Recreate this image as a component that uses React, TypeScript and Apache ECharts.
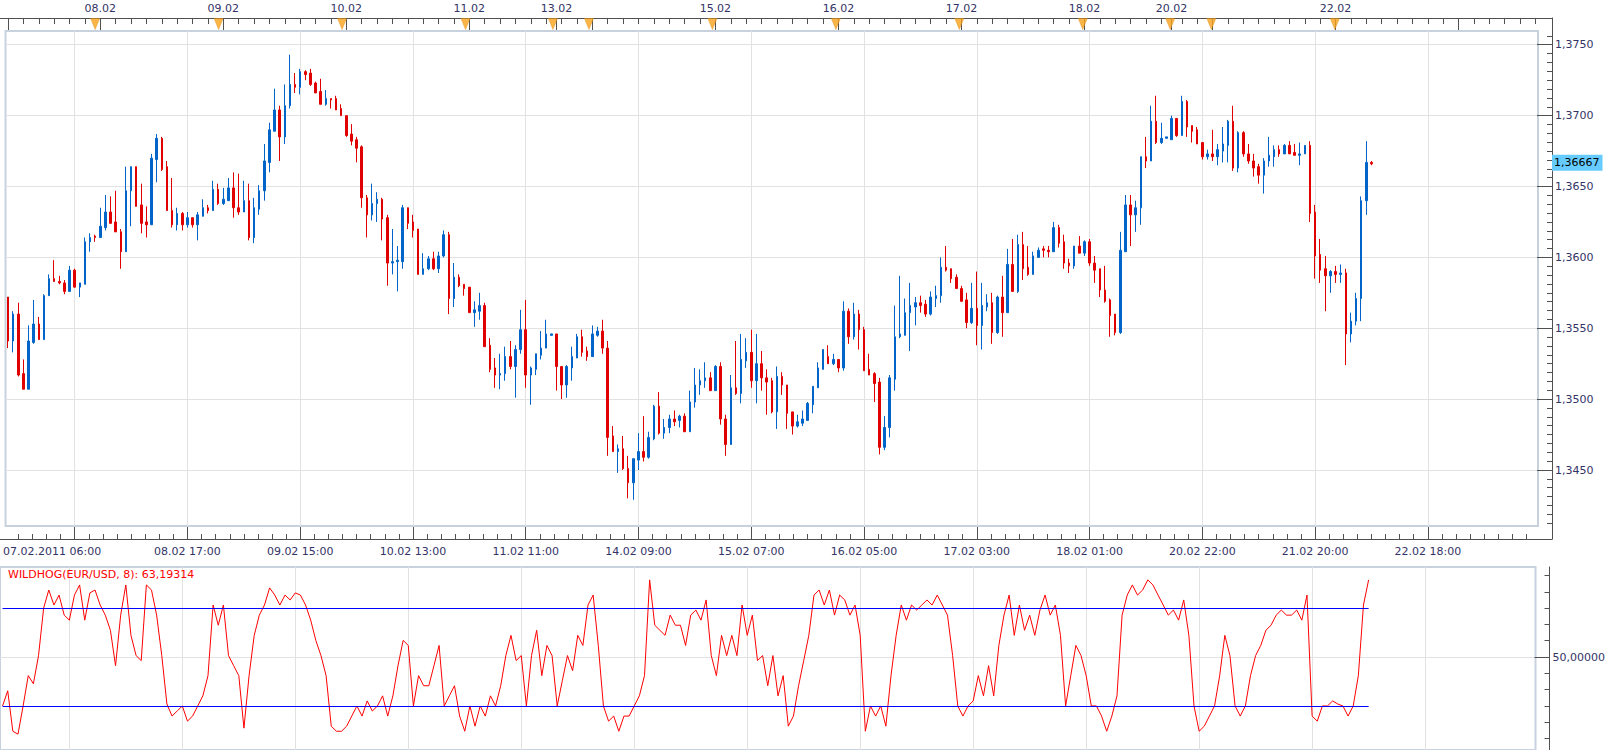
import React, { useEffect, useRef } from 'react';
import * as echarts from 'echarts';

const FONT = 'DejaVu Sans';
const LABEL_COLOR = '#333366';
const AXIS_COLOR = '#505050';
const GRID_COLOR = '#e2e2e2';
const FRAME_COLOR = '#c8d1de';

// trading sessions: day, first hour, last hour (hourly bars)
const SESSIONS: [string, number, number][] = [
  ['07.02', 6, 23], ['08.02', 0, 23], ['09.02', 0, 23], ['10.02', 0, 23], ['11.02', 0, 16],
  ['13.02', 17, 23], ['14.02', 0, 23], ['15.02', 0, 23], ['16.02', 0, 23], ['17.02', 0, 23],
  ['18.02', 0, 16], ['20.02', 16, 23], ['21.02', 0, 23], ['22.02', 0, 23], ['23.02', 0, 15],
];

const TOP_DAY_LABELS = ['08.02', '09.02', '10.02', '11.02', '13.02', '15.02', '16.02', '17.02', '18.02', '20.02', '22.02'];
const MARKER_DAYS = ['08.02', '09.02', '10.02', '11.02', '13.02', '14.02', '15.02', '16.02', '17.02', '18.02', '20.02', '21.02', '22.02'];
const GRID_TIMES = ['07.02 19:00', '08.02 17:00', '09.02 15:00', '10.02 13:00', '11.02 11:00', '14.02 09:00', '15.02 07:00',
  '16.02 05:00', '17.02 03:00', '18.02 01:00', '20.02 22:00', '21.02 20:00', '22.02 18:00'];
const FIRST_LABEL = '07.02.2011 06:00';
const PRICE_TICKS = [1.345, 1.35, 1.355, 1.36, 1.365, 1.37, 1.375];
const LAST_PRICE = 1.36667;
const LAST_PRICE_LABEL = '1,36667';
const IND_TITLE = 'WILDHOG(EUR/USD, 8): 63,19314';
const IND_LEVELS = [80, 20];
const IND_MID = 50;
const IND_MID_LABEL = '50,00000';

// [open, close, low, high]
const ohlc: number[][] = [
  [1.3572,1.3541,1.3536,1.3572],[1.3541,1.3560,1.3533,1.3562],[1.3560,1.3517,1.3516,1.3568],[1.3518,1.3507,1.3507,1.3528],
  [1.3507,1.3541,1.3507,1.3552],[1.3540,1.3553,1.3539,1.3570],[1.3553,1.3542,1.3542,1.3558],[1.3542,1.3573,1.3542,1.3574],
  [1.3573,1.3585,1.3573,1.3588],[1.3585,1.3583,1.3583,1.3598],[1.3583,1.3582,1.3581,1.3587],[1.3582,1.3576,1.3574,1.3584],
  [1.3576,1.3591,1.3576,1.3594],[1.3591,1.3579,1.3579,1.3592],[1.3579,1.3582,1.3572,1.3582],[1.3581,1.3611,1.3581,1.3614],
  [1.3611,1.3614,1.3604,1.3617],[1.3615,1.3614,1.3611,1.3616],[1.3614,1.3622,1.3614,1.3635],[1.3621,1.3632,1.3619,1.3644],
  [1.3632,1.3624,1.3624,1.3643],[1.3625,1.3618,1.3618,1.3647],[1.3618,1.3604,1.3592,1.3620],[1.3604,1.3647,1.3604,1.3664],
  [1.3647,1.3664,1.3622,1.3664],[1.3664,1.3636,1.3636,1.3664],[1.3637,1.3624,1.3617,1.3652],[1.3625,1.3623,1.3614,1.3636],
  [1.3623,1.3670,1.3623,1.3673],[1.3669,1.3684,1.3653,1.3687],[1.3684,1.3662,1.3661,1.3685],[1.3664,1.3633,1.3633,1.3668],
  [1.3633,1.3623,1.3621,1.3656],[1.3623,1.3631,1.3619,1.3635],[1.3631,1.3623,1.3619,1.3632],[1.3623,1.3628,1.3621,1.3632],
  [1.3628,1.3623,1.3621,1.3628],[1.3623,1.3630,1.3612,1.3632],[1.3629,1.3635,1.3629,1.3641],[1.3635,1.3633,1.3631,1.3637],
  [1.3633,1.3648,1.3633,1.3654],[1.3648,1.3638,1.3637,1.3652],[1.3638,1.3641,1.3637,1.3649],[1.3640,1.3649,1.3640,1.3656],
  [1.3649,1.3635,1.3628,1.3660],[1.3635,1.3632,1.3630,1.3659],[1.3632,1.3640,1.3632,1.3654],[1.3640,1.3614,1.3612,1.3652],
  [1.3614,1.3635,1.3610,1.3642],[1.3634,1.3647,1.3630,1.3651],[1.3647,1.3668,1.3640,1.3680],[1.3667,1.3690,1.3660,1.3695],
  [1.3689,1.3704,1.3689,1.3719],[1.3704,1.3685,1.3668,1.3707],[1.3685,1.3707,1.3680,1.3722],[1.3707,1.3722,1.3705,1.3743],
  [1.3722,1.3720,1.3716,1.3730],[1.3720,1.3731,1.3715,1.3733],[1.3731,1.3729,1.3725,1.3732],[1.3730,1.3722,1.3721,1.3733],
  [1.3723,1.3716,1.3716,1.3724],[1.3717,1.3708,1.3708,1.3726],[1.3708,1.3712,1.3707,1.3718],[1.3712,1.3711,1.3705,1.3712],
  [1.3712,1.3704,1.3704,1.3714],[1.3705,1.3700,1.3700,1.3708],[1.3700,1.3686,1.3685,1.3700],[1.3687,1.3682,1.3679,1.3694],
  [1.3683,1.3677,1.3667,1.3685],[1.3678,1.3642,1.3635,1.3679],[1.3642,1.3630,1.3614,1.3644],[1.3630,1.3638,1.3626,1.3652],
  [1.3638,1.3641,1.3625,1.3646],[1.3641,1.3627,1.3612,1.3642],[1.3628,1.3596,1.3580,1.3630],[1.3596,1.3597,1.3588,1.3620],
  [1.3597,1.3598,1.3576,1.3608],[1.3597,1.3635,1.3592,1.3637],[1.3635,1.3624,1.3620,1.3635],[1.3625,1.3619,1.3614,1.3630],
  [1.3620,1.3588,1.3588,1.3620],[1.3588,1.3592,1.3588,1.3603],[1.3592,1.3599,1.3591,1.3601],[1.3599,1.3592,1.3591,1.3604],
  [1.3592,1.3601,1.3589,1.3604],[1.3601,1.3616,1.3600,1.3619],[1.3616,1.3571,1.3560,1.3618],[1.3571,1.3586,1.3565,1.3596],
  [1.3586,1.3580,1.3579,1.3588],[1.3581,1.3578,1.3573,1.3581],[1.3579,1.3561,1.3561,1.3579],[1.3561,1.3563,1.3551,1.3569],
  [1.3562,1.3566,1.3556,1.3575],[1.3566,1.3537,1.3537,1.3568],[1.3538,1.3521,1.3519,1.3543],[1.3522,1.3517,1.3508,1.3529],
  [1.3517,1.3518,1.3507,1.3532],[1.3518,1.3530,1.3513,1.3537],[1.3530,1.3523,1.3521,1.3541],[1.3523,1.3535,1.3501,1.3538],
  [1.3535,1.3549,1.3532,1.3563],[1.3549,1.3517,1.3508,1.3570],[1.3517,1.3522,1.3496,1.3523],[1.3521,1.3532,1.3517,1.3532],
  [1.3531,1.3536,1.3528,1.3548],[1.3536,1.3546,1.3536,1.3556],[1.3545,1.3546,1.3545,1.3546],[1.3546,1.3523,1.3506,1.3546],
  [1.3523,1.3510,1.3500,1.3523],[1.3510,1.3523,1.3501,1.3524],[1.3522,1.3530,1.3513,1.3537],[1.3529,1.3544,1.3529,1.3546],
  [1.3544,1.3533,1.3530,1.3549],[1.3534,1.3530,1.3527,1.3537],[1.3530,1.3546,1.3530,1.3552],[1.3545,1.3548,1.3544,1.3551],
  [1.3548,1.3536,1.3532,1.3556],[1.3536,1.3473,1.3460,1.3541],[1.3474,1.3463,1.3463,1.3481],[1.3463,1.3465,1.3448,1.3468],
  [1.3465,1.3451,1.3450,1.3474],[1.3451,1.3441,1.3430,1.3460],[1.3441,1.3458,1.3429,1.3458],[1.3457,1.3463,1.3450,1.3476],
  [1.3463,1.3459,1.3456,1.3488],[1.3459,1.3473,1.3458,1.3477],[1.3472,1.3495,1.3471,1.3496],[1.3495,1.3476,1.3475,1.3505],
  [1.3476,1.3480,1.3472,1.3486],[1.3480,1.3486,1.3476,1.3489],[1.3486,1.3484,1.3481,1.3492],[1.3485,1.3488,1.3480,1.3489],
  [1.3488,1.3477,1.3477,1.3490],[1.3477,1.3498,1.3477,1.3506],[1.3498,1.3510,1.3494,1.3522],[1.3510,1.3513,1.3503,1.3521],
  [1.3513,1.3515,1.3508,1.3526],[1.3515,1.3506,1.3506,1.3519],[1.3506,1.3523,1.3506,1.3524],[1.3523,1.3486,1.3482,1.3526],
  [1.3486,1.3468,1.3460,1.3489],[1.3468,1.3508,1.3468,1.3517],[1.3508,1.3504,1.3503,1.3541],[1.3504,1.3528,1.3497,1.3546],
  [1.3527,1.3533,1.3522,1.3543],[1.3533,1.3513,1.3508,1.3549],[1.3513,1.3525,1.3497,1.3546],[1.3525,1.3515,1.3506,1.3534],
  [1.3515,1.3512,1.3489,1.3521],[1.3513,1.3491,1.3490,1.3515],[1.3491,1.3516,1.3479,1.3523],[1.3516,1.3510,1.3503,1.3519],
  [1.3510,1.3490,1.3479,1.3510],[1.3491,1.3481,1.3475,1.3491],[1.3481,1.3484,1.3480,1.3489],[1.3483,1.3486,1.3481,1.3492],
  [1.3485,1.3497,1.3485,1.3498],[1.3496,1.3509,1.3490,1.3509],[1.3508,1.3522,1.3508,1.3526],[1.3521,1.3535,1.3521,1.3535],
  [1.3530,1.3525,1.3525,1.3538],[1.3525,1.3528,1.3524,1.3532],[1.3528,1.3522,1.3519,1.3528],[1.3522,1.3562,1.3520,1.3569],
  [1.3562,1.3544,1.3539,1.3564],[1.3544,1.3560,1.3542,1.3568],[1.3560,1.3549,1.3535,1.3563],[1.3549,1.3520,1.3520,1.3551],
  [1.3521,1.3517,1.3517,1.3532],[1.3518,1.3511,1.3498,1.3519],[1.3512,1.3466,1.3461,1.3515],[1.3466,1.3480,1.3464,1.3488],
  [1.3480,1.3515,1.3473,1.3517],[1.3514,1.3544,1.3506,1.3566],[1.3544,1.3546,1.3543,1.3587],[1.3545,1.3561,1.3545,1.3571],
  [1.3561,1.3566,1.3534,1.3582],[1.3565,1.3568,1.3552,1.3572],[1.3568,1.3566,1.3561,1.3573],[1.3567,1.3560,1.3558,1.3570],
  [1.3560,1.3572,1.3559,1.3576],[1.3571,1.3573,1.3565,1.3580],[1.3573,1.3593,1.3568,1.3600],[1.3593,1.3591,1.3590,1.3608],
  [1.3592,1.3585,1.3582,1.3592],[1.3586,1.3578,1.3578,1.3588],[1.3578,1.3569,1.3569,1.3580],[1.3570,1.3554,1.3550,1.3575],
  [1.3554,1.3564,1.3553,1.3582],[1.3564,1.3552,1.3538,1.3590],[1.3552,1.3566,1.3535,1.3582],[1.3565,1.3568,1.3562,1.3574],
  [1.3568,1.3547,1.3539,1.3575],[1.3547,1.3572,1.3546,1.3573],[1.3572,1.3561,1.3544,1.3587],[1.3561,1.3595,1.3561,1.3606],
  [1.3595,1.3576,1.3576,1.3613],[1.3576,1.3609,1.3575,1.3616],[1.3609,1.3592,1.3584,1.3618],[1.3593,1.3588,1.3587,1.3608],
  [1.3588,1.3601,1.3588,1.3604],[1.3600,1.3605,1.3600,1.3607],[1.3606,1.3605,1.3600,1.3608],[1.3605,1.3604,1.3600,1.3608],
  [1.3604,1.3621,1.3604,1.3625],[1.3621,1.3610,1.3607,1.3623],[1.3611,1.3596,1.3592,1.3616],[1.3596,1.3594,1.3589,1.3599],
  [1.3594,1.3608,1.3592,1.3608],[1.3608,1.3603,1.3603,1.3615],[1.3603,1.3611,1.3601,1.3612],[1.3611,1.3596,1.3594,1.3613],
  [1.3596,1.3591,1.3582,1.3601],[1.3592,1.3577,1.3572,1.3592],[1.3577,1.3569,1.3568,1.3594],[1.3570,1.3559,1.3544,1.3571],
  [1.3560,1.3547,1.3545,1.3560],[1.3547,1.3605,1.3546,1.3618],[1.3604,1.3637,1.3604,1.3644],[1.3637,1.3630,1.3608,1.3644],
  [1.3630,1.3635,1.3618,1.3640],[1.3635,1.3671,1.3623,1.3671],[1.3671,1.3668,1.3663,1.3685],[1.3668,1.3696,1.3668,1.3707],
  [1.3696,1.3681,1.3680,1.3714],[1.3681,1.3684,1.3680,1.3695],[1.3684,1.3685,1.3684,1.3685],[1.3683,1.3698,1.3683,1.3700],
  [1.3698,1.3686,1.3685,1.3698],[1.3686,1.3710,1.3686,1.3714],[1.3710,1.3692,1.3685,1.3711],[1.3693,1.3689,1.3681,1.3693],
  [1.3690,1.3680,1.3680,1.3692],[1.3681,1.3671,1.3669,1.3681],[1.3671,1.3673,1.3669,1.3676],[1.3673,1.3671,1.3668,1.3690],
  [1.3671,1.3676,1.3665,1.3680],[1.3675,1.3680,1.3667,1.3692],[1.3679,1.3696,1.3667,1.3697],[1.3696,1.3663,1.3661,1.3707],
  [1.3663,1.3688,1.3660,1.3689],[1.3688,1.3673,1.3671,1.3689],[1.3673,1.3668,1.3666,1.3680],[1.3668,1.3663,1.3657,1.3673],
  [1.3664,1.3658,1.3652,1.3666],[1.3658,1.3668,1.3645,1.3670],[1.3668,1.3672,1.3664,1.3685],[1.3671,1.3676,1.3664,1.3679],
  [1.3676,1.3673,1.3671,1.3679],[1.3673,1.3679,1.3673,1.3680],[1.3679,1.3673,1.3673,1.3682],[1.3674,1.3672,1.3672,1.3680],
  [1.3672,1.3673,1.3665,1.3681],[1.3673,1.3679,1.3673,1.3679],[1.3679,1.3631,1.3625,1.3682],[1.3632,1.3601,1.3585,1.3637],
  [1.3602,1.3591,1.3582,1.3613],[1.3592,1.3587,1.3562,1.3601],[1.3587,1.3590,1.3575,1.3591],[1.3590,1.3588,1.3582,1.3594],
  [1.3588,1.3589,1.3582,1.3595],[1.3589,1.3546,1.3524,1.3592],[1.3546,1.3555,1.3540,1.3561],[1.3555,1.3571,1.3552,1.3575],
  [1.3571,1.3640,1.3555,1.3643],[1.3640,1.3667,1.3630,1.3682],[1.3667,1.3666,1.3665,1.3668],
];

const wildhog: number[] = [
  20,29.3,4.5,2.7,20,38.6,33.6,50.9,80,91.1,81.9,88,75.7,72.6,88,94.2,72.6,89.3,91.1,81.9,
  75.7,66.4,44.7,75.7,94.2,63.3,50.9,47.8,94.2,91.1,75.7,50.9,21.2,13.8,16.9,20,10.7,13.8,20,26.2,
  38.6,81.9,69.5,81.9,50.9,44.7,38.6,6.4,38.6,63.3,75.7,81.9,92.4,88,81.9,88,85,89.3,88,81.9,
  72.6,60.2,50.9,38.6,7.6,4.5,4.5,7.6,13.8,20,13.8,23.1,16.9,20,26.2,13.8,26.2,44.7,60.2,57.1,
  20,38.6,32.4,32.4,44.7,57.1,20,26.2,32.4,13.8,4.5,20,7.6,20,13.8,26.2,20,32.4,50.9,63.3,
  47.8,50.9,20,50.9,66.4,38.6,57.1,50.9,20,35.5,50.9,41.6,63.3,57.1,81.9,88,57.1,20,10.7,13.8,
  4.5,13.8,13.8,20,26.2,38.6,97.3,69.5,66.4,63.3,75.7,69.5,69.5,57.1,75.7,78.8,72.6,85,50.9,38.6,
  63.3,50.9,63.3,50.9,81.9,63.3,75.7,47.8,50.9,32.4,50.9,26.2,38.6,7.6,13.8,32.4,47.8,63.3,88,91.1,
  81.9,91.1,75.7,88,85,75.7,81.9,63.3,4.5,20,13.8,20,7.6,38.6,63.3,81.9,72.6,81.9,78.8,81.9,
  85,81.9,88,81.9,75.7,50.9,20,13.8,20,23.1,38.6,26.2,44.7,26.2,57.1,75.7,88,63.3,81.9,66.4,
  75.7,63.3,78.8,88,75.7,81.9,63.3,20,38.6,57.1,50.9,38.6,20,20,13.8,4.5,13.8,26.2,75.7,88,
  94.2,88,91.1,97.3,94.2,88,81.9,75.7,78.8,72.6,85,63.3,20,4.5,7.6,13.8,20,38.6,63.3,50.9,
  20,13.8,20,38.6,50.9,57.1,66.4,69.5,75.7,78.8,75.7,75.7,78.8,72.6,88,13.8,10.7,20,20,23.1,
  21.2,20,13.8,20,38.6,81.9,97.3,
];

// ---- category axis built from the sessions ----
const categories: string[] = [];
const hourOf: number[] = [];
const dayStartIdx: number[] = [];
const dayOfStart: string[] = [];
SESSIONS.forEach(([d, h0, h1]) => {
  dayStartIdx.push(categories.length);
  dayOfStart.push(d);
  for (let h = h0; h <= h1; h++) {
    categories.push(`${d} ${String(h).padStart(2, '0')}:00`);
    hourOf.push(h);
  }
});
const N = categories.length;
const gridIdx = GRID_TIMES.map((t) => categories.indexOf(t));
const gridSet = new Set(gridIdx);
const bottomLabelSet = new Set([0, ...gridIdx.slice(1)]);
const dayStartSet = new Set(dayStartIdx);
const topLabelSet = new Set(dayStartIdx.filter((_, k) => TOP_DAY_LABELS.includes(dayOfStart[k])));
const markerData = dayStartIdx.filter((_, k) => MARKER_DAYS.includes(dayOfStart[k])).map((i) => [i, 0.5]);

// minor ticks of the bottom time axis: 8 steps between two labelled ticks
const minorBottom: number[] = [];
{
  const step = (gridIdx[1] - gridIdx[0]) / 8;
  for (let v = gridIdx[0]; v > -0.5; v -= step) minorBottom.push(v);
  for (let v = gridIdx[0] + step; v < N - 0.5; v += step) minorBottom.push(v);
}

const P_MIN = 1.34105;
const P_MAX = 1.37597;
// minor price ticks: 8 steps per 0.005
const minorPrice: number[] = [];
for (let k = -16; k <= 64; k++) {
  const v = 1.345 + k * 0.000625;
  if (v > P_MIN && v < P_MAX) minorPrice.push(+v.toFixed(6));
}
const I_MIN = -7.0;
const I_MAX = 105.2;
const indTicks = [0, 10, 20, 30, 40, 60, 70, 80, 90, 100];

const lab = { color: LABEL_COLOR, fontSize: 11, fontFamily: FONT };
const off = { show: false };

export default function App() {
  const ref = useRef<HTMLDivElement>(null);
  useEffect(() => {
    if (!ref.current) return;
    const chart = echarts.init(ref.current, undefined, { renderer: 'svg' });
    const line = (show: boolean) => ({ show, onZero: false, lineStyle: { color: AXIS_COLOR } });
    const option: any = {
      animation: false,
      backgroundColor: '#ffffff',
      textStyle: { fontFamily: FONT },
      title: {
        text: IND_TITLE, left: 8, top: 569, padding: 0,
        textStyle: { color: '#ff0000', fontSize: 11, fontWeight: 'normal', fontFamily: FONT },
      },
      grid: [
        { left: 0, top: 31, width: 1538, height: 495, show: true, borderColor: FRAME_COLOR, borderWidth: 2 },
        { left: 0, top: 567, width: 1538, height: 186, show: true, borderColor: FRAME_COLOR, borderWidth: 2 },
        { left: 0, top: 18, width: 1552, height: 521 },
        { left: 0, top: 18, width: 1538, height: 12 },
      ],
      xAxis: [
        { // 0 bottom time axis (major ticks, labels, vertical grid)
          type: 'category', gridIndex: 0, data: categories, position: 'bottom', offset: 13,
          axisLine: line(false),
          axisTick: { show: true, inside: true, length: 12, alignWithLabel: true,
            interval: (i: number) => gridSet.has(i), lineStyle: { color: AXIS_COLOR } },
          axisLabel: {
            ...lab, margin: 7,
            interval: (i: number) => bottomLabelSet.has(i),
            formatter: (v: string, i: number) => (i === 0 ? `{a|${FIRST_LABEL}}` : v),
            rich: { a: { ...lab, padding: [0, 0, 0, 88] } },
          },
          splitLine: { show: true, alignWithLabel: true, interval: (i: number) => gridSet.has(i),
            lineStyle: { color: GRID_COLOR, width: 1 } },
        },
        { // 1 top axis short ticks
          type: 'category', gridIndex: 0, data: categories, position: 'top', offset: 13,
          axisLine: line(false),
          axisTick: { show: true, inside: true, length: 6, alignWithLabel: true,
            interval: (i: number) => hourOf[i] % 3 === 0, lineStyle: { color: AXIS_COLOR } },
          axisLabel: off, splitLine: off,
        },
        { // 2 top axis day ticks + day labels
          type: 'category', gridIndex: 0, data: categories, position: 'top', offset: 13,
          axisLine: line(false),
          axisTick: { show: true, inside: true, length: 12, alignWithLabel: true,
            interval: (i: number) => dayStartSet.has(i), lineStyle: { color: AXIS_COLOR } },
          axisLabel: { ...lab, margin: 4, interval: (i: number) => topLabelSet.has(i),
            formatter: (v: string) => v.slice(0, 5) },
          splitLine: off,
        },
        { // 3 bottom minor ticks
          type: 'value', gridIndex: 0, position: 'bottom', offset: 13, min: -0.5, max: N - 0.5,
          axisLine: line(false),
          axisTick: { show: true, inside: true, length: 5, customValues: minorBottom, lineStyle: { color: AXIS_COLOR } },
          axisLabel: off, splitLine: off,
        },
        { // 4 indicator panel
          type: 'category', gridIndex: 1, data: categories,
          axisLine: line(false), axisTick: off, axisLabel: off,
          splitLine: { show: true, alignWithLabel: true, interval: (i: number) => gridSet.has(i),
            lineStyle: { color: GRID_COLOR, width: 1 } },
        },
        { // 5 frame bottom line
          type: 'value', gridIndex: 2, position: 'bottom', min: 0, max: 1,
          axisLine: line(true), axisTick: off, axisLabel: off, splitLine: off,
        },
        { // 6 frame top line
          type: 'value', gridIndex: 2, position: 'top', min: 0, max: 1,
          axisLine: line(true), axisTick: off, axisLabel: off, splitLine: off,
        },
        { // 7 day markers strip
          type: 'category', gridIndex: 3, data: categories, show: false, axisLine: line(false),
        },
      ],
      yAxis: [
        { // 0 price: major ticks, labels, grid lines
          type: 'value', gridIndex: 0, position: 'right', offset: 14, min: P_MIN, max: P_MAX,
          axisLine: line(false),
          axisTick: { show: true, inside: true, length: 15, customValues: PRICE_TICKS, lineStyle: { color: AXIS_COLOR } },
          axisLabel: { ...lab, margin: 3, customValues: PRICE_TICKS,
            formatter: (v: number) => v.toFixed(4).replace('.', ',') },
          splitLine: { show: true, lineStyle: { color: GRID_COLOR, width: 1 } },
        },
        { // 1 indicator minor ticks + label + axis line
          type: 'value', gridIndex: 1, position: 'right', offset: 14, min: I_MIN, max: I_MAX,
          axisLine: line(true),
          axisTick: { show: true, inside: true, length: 5, customValues: indTicks, lineStyle: { color: AXIS_COLOR } },
          axisLabel: { ...lab, margin: 3, customValues: [IND_MID], formatter: () => IND_MID_LABEL },
          splitLine: off,
        },
        { // 2 indicator mid tick + mid grid line
          type: 'value', gridIndex: 1, position: 'right', offset: 14, min: I_MIN, max: I_MAX,
          axisLine: line(false),
          axisTick: { show: true, inside: true, length: 15, customValues: [IND_MID], lineStyle: { color: AXIS_COLOR } },
          axisLabel: off,
          splitLine: { show: true, lineStyle: { color: GRID_COLOR, width: 1 } },
        },
        { // 3 frame right line
          type: 'value', gridIndex: 2, position: 'right', min: 0, max: 1,
          axisLine: line(true), axisTick: off, axisLabel: off, splitLine: off,
        },
        { // 4 markers strip
          type: 'value', gridIndex: 3, min: 0, max: 1, show: false, axisLine: line(false),
        },
        { // 5 price minor ticks
          type: 'value', gridIndex: 0, position: 'right', offset: 14, min: P_MIN, max: P_MAX,
          axisLine: line(false),
          axisTick: { show: true, inside: true, length: 5, customValues: minorPrice, lineStyle: { color: AXIS_COLOR } },
          axisLabel: off, splitLine: off,
        },
        { // 6 last price box
          type: 'value', gridIndex: 0, position: 'right', offset: 14, min: P_MIN, max: P_MAX,
          axisLine: line(false), axisTick: off, splitLine: off,
          axisLabel: {
            show: true, customValues: [LAST_PRICE], formatter: () => LAST_PRICE_LABEL, margin: 0,
            color: '#000000', fontSize: 11, fontFamily: FONT, backgroundColor: '#66ccff',
            padding: [2, 3, 1, 2], lineHeight: 13,
          },
        },
      ],
      series: [
        {
          type: 'candlestick', xAxisIndex: 0, yAxisIndex: 0, data: ohlc, barWidth: 2,
          itemStyle: { color: '#0064c8', color0: '#e00000', borderColor: '#0064c8', borderColor0: '#e00000', borderWidth: 1 },
        },
        {
          type: 'line', xAxisIndex: 4, yAxisIndex: 1, data: wildhog, showSymbol: false, symbol: 'none',
          lineStyle: { color: '#ff0000', width: 1 }, itemStyle: { color: '#ff0000' },
          markLine: {
            silent: true, symbol: ['none', 'none'], animation: false,
            label: { show: false },
            lineStyle: { color: '#0000ff', width: 1, type: 'solid' },
            data: IND_LEVELS.map((lv) => [{ coord: [0, lv] }, { coord: [wildhog.length - 1, lv] }]),
          },
        },
        {
          type: 'scatter', xAxisIndex: 7, yAxisIndex: 4, data: markerData,
          symbol: 'triangle', symbolRotate: 180, symbolSize: [9, 11],
          itemStyle: { color: '#f9a21c', borderColor: '#e08a10', borderWidth: 0.5 },
        },
      ],
    };
    chart.setOption(option);
    return () => chart.dispose();
  }, []);
  return (
    <div
      ref={ref}
      style={{ position: 'absolute', left: 0, top: 0, width: 1608, height: 750, background: '#fff' }}
    />
  );
}
